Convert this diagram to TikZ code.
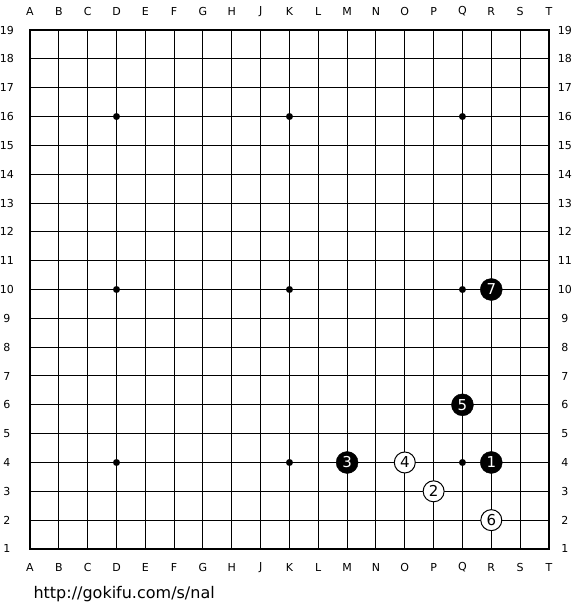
\documentclass[tikz,border=0pt]{standalone}
\usepackage{fontspec}
\setmainfont{DejaVu Sans}

\tikzset{
	lbl/.style={font=\fontsize{11}{12}\selectfont},
	blk/.style={circle,fill=black,draw=black,minimum size=22pt,inner sep=0pt,text=white,font=\fontsize{15}{16}\selectfont},
	wht/.style={circle,fill=white,draw=black,line width=1pt,minimum size=21pt,inner sep=0pt,font=\fontsize{15}{16}\selectfont},
	hoshi/.style={circle,fill=black,minimum size=7pt,inner sep=0pt}
}

\begin{document}
\begin{tikzpicture}[x=28.83pt,y=28.83pt]
		\useasboundingbox (-0.0406,-1.1166) rectangle (20.077,20.042);
		\foreach \i in {1,...,19} {
			\draw[line width=1pt] (\i,1) -- (\i,19);
			\draw[line width=1pt] (1,\i) -- (19,\i);
		}
		\draw[line width=2.2pt] (1,1) rectangle (19,19);
		\foreach \c [count=\i] in {A,B,C,D,E,F,G,H,J,K,L,M,N,O,P,Q,R,S,T} {
			\node[lbl] (top\c) at (\i,19.65) {\c};
			\node[lbl] (bot\c) at (\i,0.37) {\c};
		}
		\foreach \r in {1,...,19} {
			\node[lbl] (left\r) at (0.2,\r) {\r};
			\node[lbl] (right\r) at (19.55,\r) {\r};
		}
		\foreach \x in {4,10,16}
			\foreach \y in {4,10,16}
				\node[hoshi] (star\x-\y) at (\x,\y) {};
		\node[blk] (m1) at (17,4) {1};
		\node[wht] (m2) at (15,3) {2};
		\node[blk] (m3) at (12,4) {3};
		\node[wht] (m4) at (14,4) {4};
		\node[blk] (m5) at (16,6) {5};
		\node[wht] (m6) at (17,2) {6};
		\node[blk] (m7) at (17,10) {7};
		\node[anchor=west,font=\fontsize{16}{18}\selectfont] (url) at (1,-0.55) {http://gokifu.com/s/nal};
	\end{tikzpicture}
\end{document}
